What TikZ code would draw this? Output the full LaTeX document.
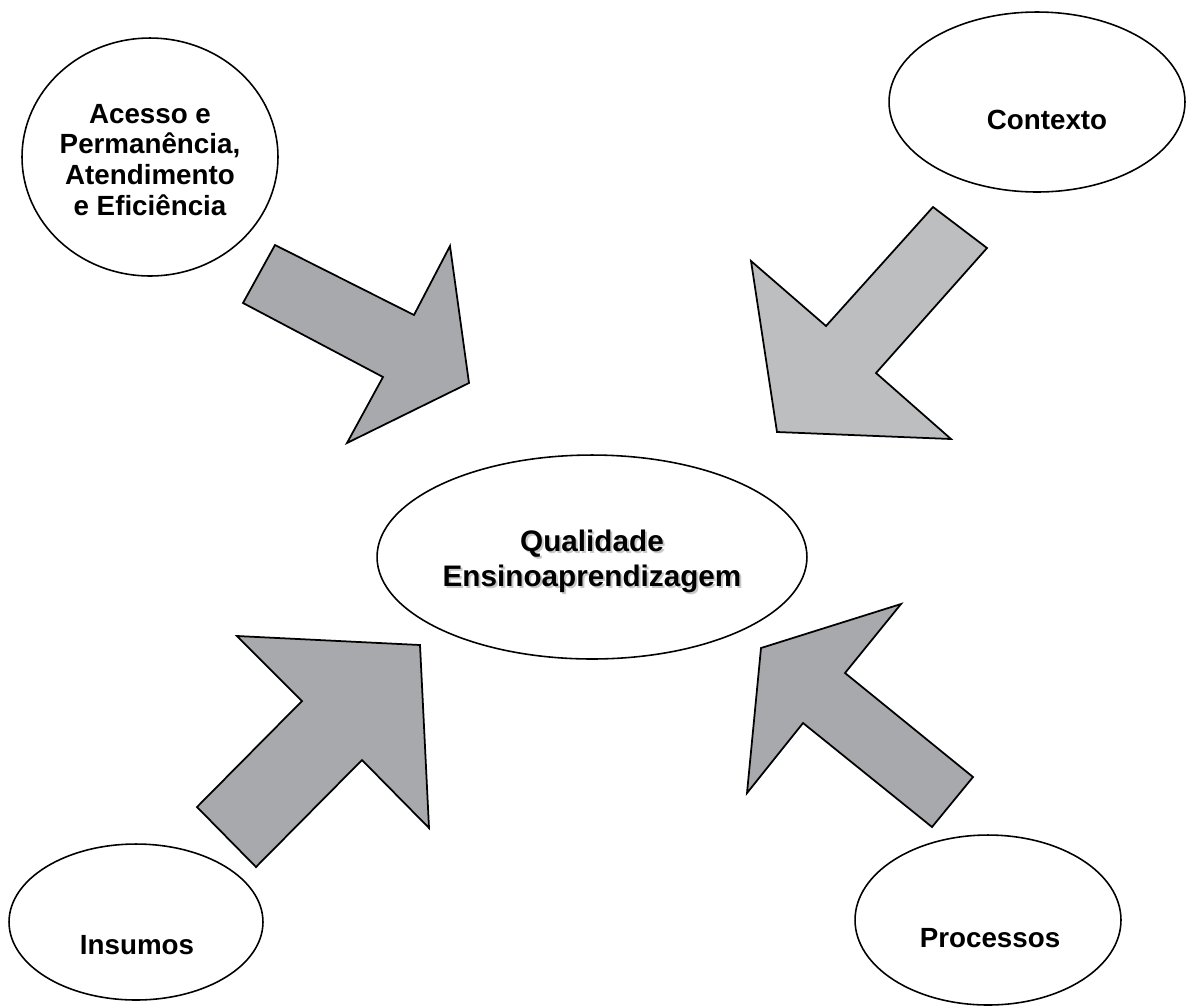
\documentclass[tikz,border=0pt]{standalone}
\usepackage{fontspec}
\setmainfont{Liberation Sans}
\usetikzlibrary{shapes.geometric}
\usepackage{xcolor}
\definecolor{arrowdark}{HTML}{A7A9AC}
\definecolor{arrowlight}{HTML}{BCBEC0}
\definecolor{shadowgray}{HTML}{C8C8C8}

\begin{document}
\begin{tikzpicture}[x=0.02cm, y=-0.02cm,
  bubble/.style={draw, ellipse, line width=.9pt, inner sep=0pt},
  caption/.style={font=\bfseries\fontsize{15.8}{17.6}\selectfont, align=center, inner sep=0pt},
  bigcaption/.style={font=\bfseries\fontsize{16.9}{19.8}\selectfont, align=center, inner sep=0pt},
  blockarrow/.style={draw, line width=1pt, line join=miter}]
\useasboundingbox (0,0) rectangle (1189,1005);
% the five ellipses
\node[bubble, minimum width=5.12cm, minimum height=4.76cm] (acesso) at (150,157) {};
\node[bubble, minimum width=5.92cm, minimum height=3.6cm] (contexto) at (1037,102) {};
\node[bubble, minimum width=8.6cm, minimum height=4.08cm] (qualidade) at (592,557) {};
\node[bubble, minimum width=5.08cm, minimum height=3.12cm] (insumos) at (136,922) {};
\node[bubble, minimum width=5.32cm, minimum height=3.4cm] (processos) at (988,920) {};
% texts
\node[caption] (acessotext) at (150,160) {Acesso e\\Permanência,\\Atendimento\\e Eficiência};
\node[caption] (contextotext) at (1047,120) {Contexto};
\node[bigcaption, text=shadowgray] (qualidadeshadow) at (594,563) {Qualidade\\Ensinoaprendizagem};
\node[bigcaption] (qualidadetext) at (592,561) {Qualidade\\Ensinoaprendizagem};
\node[caption] (insumostext) at (137,945) {Insumos};
\node[caption] (processostext) at (990,938) {Processos};
% block arrows
\draw[blockarrow, fill=arrowdark] (275,245) -- (414,315) -- (450,246) -- (469,383)
  -- (347,443) -- (383,377) -- (243,303) -- cycle;
\draw[blockarrow, fill=arrowlight] (933,207) -- (987,248) -- (876,373) -- (951,439)
  -- (777,432) -- (751,261) -- (826,326) -- cycle;
\draw[blockarrow, fill=arrowdark] (237,636) -- (420,645) -- (429,828) -- (362,760)
  -- (256,867) -- (197,807) -- (302,701) -- cycle;
\draw[blockarrow, fill=arrowdark] (901,604) -- (845,673) -- (973,777) -- (932,827)
  -- (803,723) -- (747,793) -- (761,648) -- cycle;
\end{tikzpicture}
\end{document}
